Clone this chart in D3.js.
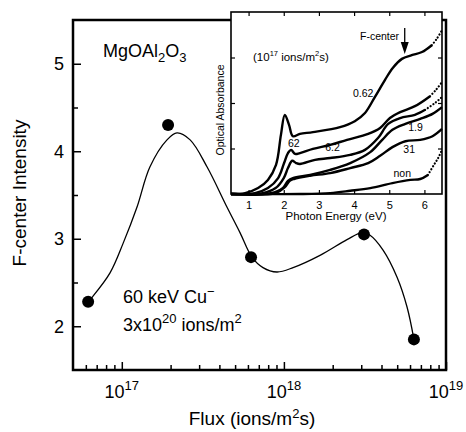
<!DOCTYPE html>
<html>
<head>
<meta charset="utf-8">
<script src="https://cdn.jsdelivr.net/npm/d3@7"></script>
<style>
body { margin: 0; background: #fff; }
svg { font-family: "Liberation Sans", Arial, sans-serif; }
</style>
</head>
<body>
<div id="chart"></div>
<script>
let w = 466
let h = 432

// main plot: F-center intensity vs flux
let flux = [6.2e16, 1.93e17, 6.27e17, 3.12e18, 6.34e18]
let intensity = [2.28, 4.30, 2.79, 3.05, 1.85]

// the smooth guide line drawn through the points
let fitFlux = [6.2e16, 6.55e16, 8.46e16, 1.02e17, 1.24e17, 1.49e17, 1.9e17, 2.19e17, 2.64e17,
  3.36e17, 4.46e17, 5.36e17, 6.35e17, 7.43e17, 9.06e17, 1.14e18, 1.67e18, 2.45e18, 3.03e18,
  3.4e18, 4.09e18, 4.99e18, 5.75e18, 6.34e18]
let fitValue = [2.28, 2.33, 2.61, 2.95, 3.36, 3.82, 4.13, 4.21, 4.13,
  3.82, 3.36, 3.07, 2.79, 2.67, 2.62, 2.67, 2.81, 2.99, 3.07,
  3.04, 2.87, 2.56, 2.22, 1.85]

let yMajor = [2, 3, 4, 5]
let yMinor = [2.5, 3.5, 4.5]
let xMajor = [1e17, 1e18, 1e19]
let xMinor = [6e16, 7e16, 8e16, 9e16, 2e17, 3e17, 4e17, 5e17, 6e17, 7e17, 8e17, 9e17,
  2e18, 3e18, 4e18, 5e18, 6e18, 7e18, 8e18, 9e18]

// inset: optical absorption spectra, labelled by flux (1e17 ions/m2s)
let insetNames = ["0.62", "62", "6.2", "1.9", "31", "non"]
let eV062 = [0.5, 0.9, 1.27, 1.55, 1.78, 1.92, 2.03, 2.15, 2.26, 2.46, 2.83, 3.6, 4.02, 4.31, 4.59, 4.88, 5.1, 5.36, 5.64, 5.93, 6.21, 6.35, 6.5]
let abs062 = [0, 0.02, 0.13, 0.31, 0.64, 1.3, 1.74, 1.52, 1.27, 1.32, 1.36, 1.47, 1.6, 1.78, 2.13, 2.51, 2.77, 2.97, 3.05, 3.12, 3.27, 3.41, 3.6]
let eV62 = [0.5, 1.18, 1.55, 1.84, 2.01, 2.12, 2.21, 2.32, 2.46, 2.83, 3.32, 3.8, 4.4, 4.74, 5.02, 5.31, 5.73, 6.16, 6.33, 6.5]
let abs62 = [0, 0.02, 0.13, 0.35, 0.68, 0.9, 0.97, 0.88, 0.9, 0.99, 1.08, 1.19, 1.32, 1.45, 1.67, 1.8, 1.93, 2.15, 2.29, 2.46]
let eV6_2 = [0.5, 1.4, 1.77, 2.0, 2.12, 2.24, 2.35, 2.46, 2.89, 3.32, 3.89, 4.31, 4.68, 4.97, 5.31, 5.73, 6.02, 6.3, 6.5]
let abs6_2 = [0, 0.02, 0.13, 0.35, 0.57, 0.73, 0.68, 0.66, 0.75, 0.79, 0.86, 0.97, 1.23, 1.54, 1.67, 1.74, 1.85, 2.0, 2.13]
let eV1_9 = [0.5, 1.63, 1.97, 2.12, 2.26, 2.75, 3.32, 3.89, 4.46, 4.8, 5.09, 5.46, 5.88, 6.23, 6.5]
let abs1_9 = [0, 0.02, 0.13, 0.29, 0.35, 0.42, 0.53, 0.68, 0.92, 1.19, 1.41, 1.54, 1.65, 1.76, 1.91]
let eV31 = [0.5, 1.77, 2.03, 2.17, 2.29, 2.75, 3.32, 3.89, 4.4, 4.74, 5.09, 5.46, 5.88, 6.23, 6.5]
let abs31 = [0, 0.02, 0.15, 0.29, 0.33, 0.4, 0.46, 0.57, 0.68, 0.84, 1.03, 1.16, 1.19, 1.27, 1.43]
let eVnon = [0.5, 2.46, 3.32, 3.89, 4.46, 5.09, 5.6, 5.88, 6.1, 6.27, 6.39, 6.5]
let absNon = [0, 0, 0.02, 0.07, 0.13, 0.24, 0.31, 0.33, 0.42, 0.64, 0.79, 0.97]
// energy where the measured trace turns into sparse dots
let dottedFrom = [6.21, 6.16, 6.02, 99, 99, 6.1]
// where each label sits, in eV / absorbance
let labelEV = [3.97, 2.12, 3.18, 5.54, 5.4, 5.12]
let labelAbs = [2.13, 1.03, 0.95, 1.38, 0.9, 0.37]
let insetXTicks = [1, 2, 3, 4, 5, 6]
let insetYTicks = [1, 2, 3]

let svg = d3.select("#chart").append("svg")
  .attr("width", w)
  .attr("height", h)

let x = d3.scaleLog().domain([5e16, 1e19]).range([73, 446])
let y = d3.scaleLinear().domain([1.5, 5.5]).range([370, 20])

// bottom axis
let gx = svg.append("g").attr("transform", "translate(0,370)")
gx.call(d3.axisBottom(x).tickValues(xMajor).tickSize(-8).tickFormat(""))
gx.append("g").call(d3.axisBottom(x).tickValues(xMinor).tickSize(-5).tickFormat(""))
gx.selectAll(".domain").remove()
gx.selectAll("line").attr("stroke-width", 1.5)

let xl = svg.append("g").selectAll("text").data(xMajor).join("text")
  .attr("x", d => x(d))
  .attr("y", 398)
  .attr("text-anchor", "middle")
  .attr("font-size", 18)
xl.append("tspan").text("10")
xl.append("tspan").attr("dy", -8).attr("font-size", 13).text(d => Math.round(Math.log10(d)))

// left axis
let gy = svg.append("g").attr("transform", "translate(73,0)")
gy.call(d3.axisLeft(y).tickValues(yMajor).tickSize(-8).tickPadding(9).tickFormat(d3.format("d")))
gy.append("g").call(d3.axisLeft(y).tickValues(yMinor).tickSize(-5).tickFormat(""))
gy.selectAll(".domain").remove()
gy.selectAll("line").attr("stroke-width", 1.5)
gy.selectAll("text").attr("font-size", 18).attr("font-family", "Liberation Sans, Arial, sans-serif").attr("fill", "#000")

// frame
svg.append("rect")
  .attr("x", 73).attr("y", 20)
  .attr("width", 373).attr("height", 350)
  .attr("fill", "none").attr("stroke", "#000").attr("stroke-width", 2.5)

// guide curve
let fit = fitFlux.map((f, i) => [f, fitValue[i]])
let line = d3.line()
  .x(d => x(d[0]))
  .y(d => y(d[1]))
  .curve(d3.curveCatmullRom.alpha(0.5))
svg.append("path")
  .datum(fit)
  .attr("d", line)
  .attr("fill", "none")
  .attr("stroke", "#000")
  .attr("stroke-width", 1.3)

svg.append("g").selectAll("circle").data(flux).join("circle")
  .attr("cx", d => x(d))
  .attr("cy", (d, i) => y(intensity[i]))
  .attr("r", 6)
  .attr("fill", "#000")

// axis titles
svg.append("text")
  .attr("transform", "translate(26,193) rotate(-90)")
  .attr("text-anchor", "middle")
  .attr("font-size", 19)
  .text("F-center Intensity")

let xt = svg.append("text")
  .attr("x", 252).attr("y", 425)
  .attr("text-anchor", "middle")
  .attr("font-size", 19)
xt.append("tspan").text("Flux (ions/m")
xt.append("tspan").attr("dy", -7).attr("font-size", 13).text("2")
xt.append("tspan").attr("dy", 7).text("s)")

// annotations
let mg = svg.append("text").attr("x", 103).attr("y", 57).attr("font-size", 18)
mg.append("tspan").text("MgOAl")
mg.append("tspan").attr("dy", 5).attr("font-size", 13).text("2")
mg.append("tspan").attr("dy", -5).text("O")
mg.append("tspan").attr("dy", 5).attr("font-size", 13).text("3")

let cu = svg.append("text").attr("x", 123).attr("y", 303).attr("font-size", 18)
cu.append("tspan").text("60 keV Cu")
cu.append("tspan").attr("dy", -7).attr("font-size", 13).text("\u2212")

let dose = svg.append("text").attr("x", 123).attr("y", 331).attr("font-size", 18)
dose.append("tspan").text("3x10")
dose.append("tspan").attr("dy", -8).attr("font-size", 13).text("20")
dose.append("tspan").attr("dy", 8).text(" ions/m")
dose.append("tspan").attr("dy", -8).attr("font-size", 13).text("2")

// ---- inset ----
let ix = d3.scaleLinear().domain([0.5, 6.5]).range([231, 442])
let iy = d3.scaleLinear().domain([0, 4]).range([194, 12])
let inset = svg.append("g")

inset.append("rect")
  .attr("x", 231).attr("y", 12)
  .attr("width", 211).attr("height", 182)
  .attr("fill", "#fff").attr("stroke", "#000").attr("stroke-width", 1.6)

let ib = inset.append("g").attr("transform", "translate(0,194)")
  .call(d3.axisBottom(ix).tickValues(insetXTicks).tickSize(-4).tickPadding(7).tickFormat(d3.format("d")))
let it = inset.append("g").attr("transform", "translate(0,12)")
  .call(d3.axisTop(ix).tickValues(insetXTicks).tickSize(-4).tickFormat(""))
let il = inset.append("g").attr("transform", "translate(231,0)")
  .call(d3.axisLeft(iy).tickValues(insetYTicks).tickSize(-4).tickFormat(""))
let ir = inset.append("g").attr("transform", "translate(442,0)")
  .call(d3.axisRight(iy).tickValues(insetYTicks).tickSize(-4).tickFormat(""))
inset.selectAll(".domain").remove()
inset.selectAll(".tick line").attr("stroke-width", 1.2)
ib.selectAll("text").attr("font-size", 11).attr("font-family", "Liberation Sans, Arial, sans-serif").attr("fill", "#000")

inset.append("text")
  .attr("x", 336).attr("y", 220)
  .attr("text-anchor", "middle")
  .attr("font-size", 11.5)
  .text("Photon Energy (eV)")

inset.append("text")
  .attr("transform", "translate(224,110) rotate(-90)")
  .attr("text-anchor", "middle")
  .attr("font-size", 10.5)
  .text("Optical Absorbance")

let spectra = [[eV062, abs062], [eV62, abs62], [eV6_2, abs6_2], [eV1_9, abs1_9], [eV31, abs31], [eVnon, absNon]]
let iline = d3.line()
  .x(d => ix(d[0]))
  .y(d => iy(d[1]))
  .curve(d3.curveCatmullRom.alpha(0.5))

spectra.forEach((s, k) => {
  let pts = s[0].map((e, i) => [e, s[1][i]])
  let solid = pts.filter(p => p[0] <= dottedFrom[k])
  let dots = pts.filter(p => p[0] >= dottedFrom[k])
  inset.append("path")
    .datum(solid)
    .attr("d", iline)
    .attr("fill", "none")
    .attr("stroke", "#000")
    .attr("stroke-width", 2.4)
  if (dots.length > 1) {
    inset.append("path")
      .datum(dots)
      .attr("d", iline)
      .attr("fill", "none")
      .attr("stroke", "#000")
      .attr("stroke-width", 2.2)
      .attr("stroke-linecap", "round")
      .attr("stroke-dasharray", "0.1,3.2")
  }
  inset.append("text")
    .attr("x", ix(labelEV[k]))
    .attr("y", iy(labelAbs[k]))
    .attr("font-size", 10.5)
    .text(insetNames[k])
})

let unit = inset.append("text").attr("x", 253).attr("y", 61).attr("font-size", 11.5)
unit.append("tspan").text("(10")
unit.append("tspan").attr("dy", -5).attr("font-size", 7.5).text("17")
unit.append("tspan").attr("dy", 5).text("  ions/m")
unit.append("tspan").attr("dy", -5).attr("font-size", 7.5).text("2")
unit.append("tspan").attr("dy", 5).text("s)")

inset.append("text")
  .attr("x", 360).attr("y", 40)
  .attr("font-size", 10.5)
  .text("F-center")

// arrow marking the F-center band
inset.append("line")
  .attr("x1", ix(5.44)).attr("x2", ix(5.44))
  .attr("y1", 28).attr("y2", 44)
  .attr("stroke", "#000").attr("stroke-width", 1.3)
inset.append("path")
  .attr("d", d3.line()([[ix(5.44) - 4, 42], [ix(5.44) + 4, 42], [ix(5.44), 54]]) + "Z")
  .attr("fill", "#000")
</script>
</body>
</html>
